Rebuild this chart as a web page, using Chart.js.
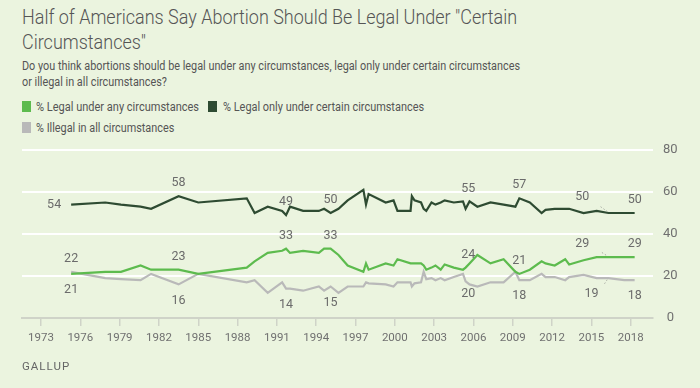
<!DOCTYPE html>
<html>
<head>
<meta charset="utf-8">
<script src="https://cdn.jsdelivr.net/npm/chart.js@4/dist/chart.umd.min.js"></script>
<style>
  html, body { margin: 0; padding: 0; }
  body { width: 700px; height: 388px; overflow: hidden; }
  #wrap {
    position: relative; width: 700px; height: 388px;
    background: #ebf4df; overflow: hidden;
    font-family: Roboto, "Noto Sans", sans-serif;
    color: #5a5a5a;
  }
  .fit { position: absolute; width: max-content; white-space: nowrap; transform-origin: 0 0; }
  .title { left: 22px; top: 5px; font-size: 21px; font-weight: 300; line-height: 25px; color: #555; }
  .sub { left: 22px; top: 58px; font-size: 12.5px; line-height: 16px; color: #555; }
  .leg { font-size: 12.5px; line-height: 14px; color: #555; }
  .sq { position: absolute; width: 9px; height: 11px; }
  .gallup { position: absolute; left: 22px; top: 359px; font-size: 11.5px; letter-spacing: 1px; color: #666; }
  #chartBox { position: absolute; left: 0; top: 130px; width: 700px; height: 230px; }
</style>
</head>
<body>
<div id="wrap">
  <div class="fit title" data-w="495">Half of Americans Say Abortion Should Be Legal Under "Certain<br>Circumstances"</div>
  <div class="fit sub" data-w="498">Do you think abortions should be legal under any circumstances, legal only under certain circumstances<br>or illegal in all circumstances?</div>

  <div class="sq" style="left:22px;top:101px;background:#5dbb4e"></div>
  <div class="fit leg" data-w="163" style="left:36px;top:100px">% Legal under any circumstances</div>
  <div class="sq" style="left:208px;top:101px;background:#2e4b32"></div>
  <div class="fit leg" data-w="201" style="left:223px;top:100px">% Legal only under certain circumstances</div>
  <div class="sq" style="left:22px;top:122px;background:#b9b9b9"></div>
  <div class="fit leg" data-w="138" style="left:36px;top:121px">% Illegal in all circumstances</div>

  <div id="chartBox"><canvas id="chart"></canvas></div>
  <div class="gallup">GALLUP</div>
</div>

<script>
// Survey dates (fractional years) and the three answer shares
const years = [
  1975.3, 1977.9, 1979.1, 1980.6, 1981.4, 1983.5, 1985.0, 1988.7, 1989.3, 1990.3,
  1991.4, 1991.7, 1992.0, 1993.0, 1994.2, 1994.6, 1995.1, 1995.7, 1996.4, 1997.6,
  1997.8, 1998.0, 1999.3, 1999.9, 2000.2, 2001.2, 2001.3, 2001.5, 2002.0, 2002.2,
  2002.4, 2002.8, 2003.1, 2003.5, 2003.8, 2004.5, 2005.2, 2005.4, 2005.7, 2006.3,
  2007.3, 2008.3, 2009.2, 2009.5, 2010.3, 2011.2, 2011.5, 2012.2, 2013.0, 2013.3,
  2014.4, 2015.4, 2016.3, 2017.5, 2018.3
];
const legalAny = [
  21, 22, 22, 25, 23, 23, 21, 24, 27, 31,
  32, 33, 31, 32, 31, 33, 33, 30, 25, 22,
  26, 23, 26, 25, 28, 26, 26, 26, 26, 25,
  23, 24, 25, 23, 25.5, 24, 23, 24, 26, 30,
  26, 28, 22, 21, 23, 27, 26, 25, 28, 25.5,
  27.5, 29, 29, 29, 29
];
const legalCertain = [
  54, 55, 54, 53, 52, 58, 55, 57, 50, 53,
  51, 49, 53, 51, 51, 52, 50, 52, 56, 61,
  54, 59, 55, 56, 51, 51, 58, 56, 55, 52,
  51, 55, 54, 55, 56, 55, 55.5, 52, 55.5, 53,
  55, 54, 53, 57, 55, 50, 51.5, 52, 52, 52,
  50, 51, 50, 50, 50
];
const illegalAll = [
  22, 19, 18.5, 18, 21, 16, 21, 17, 18, 12,
  17, 14, 14, 13, 15, 13, 15, 12, 15, 15,
  17, 16.5, 16, 15, 17, 17, 15, 16.5, 17, 22,
  18.5, 19, 18, 19, 18, 19.5, 21, 17.5, 16, 15,
  17, 17, 22, 18, 18, 21, 19.5, 19.5, 18, 19.5,
  20.5, 19, 19, 18, 18
];

const xTicks = [1973, 1976, 1979, 1982, 1985, 1988, 1991, 1994, 1997, 2000, 2003, 2006, 2009, 2012, 2015, 2018];
const yTicks = [0, 20, 40, 60, 80];

// Annotated values: [year, value, text, side]
const pointLabels = [
  [1975.3, 54, '54', 'left'],
  [1975.3, 22, '22', 'above'],
  [1975.3, 21, '21', 'below'],
  [1983.5, 58, '58', 'above'],
  [1983.5, 23, '23', 'above'],
  [1983.5, 16, '16', 'below'],
  [1991.7, 49, '49', 'above'],
  [1991.7, 33, '33', 'above'],
  [1991.7, 14, '14', 'below'],
  [1995.1, 50, '50', 'above'],
  [1995.1, 33, '33', 'above'],
  [1995.1, 15, '15', 'below'],
  [2005.6, 55.5, '55', 'above'],
  [2005.6, 24, '24', 'above'],
  [2005.6, 19, '20', 'below'],
  [2009.5, 57, '57', 'above'],
  [2009.5, 21, '21', 'above'],
  [2009.5, 18, '18', 'below'],
  [2014.3, 51.5, '50', 'above'],
  [2014.3, 29, '29', 'above'],
  [2015.0, 19, '19', 'below'],
  [2018.3, 50, '50', 'above'],
  [2018.3, 29, '29', 'above'],
  [2018.3, 18, '18', 'below']
];
// dotted leaders from the 2014 labels to the 2016 reading: [x1, v1, x2, v2]
const leaders = [
  [2015.7, 53, 2016.2, 50.8],
  [2015.8, 31.2, 2016.2, 29.6],
  [2016.0, 16.3, 2016.2, 18.2]
];

// squeeze html text blocks to the measured widths of the original
document.querySelectorAll('.fit').forEach(el => {
  const w = +el.dataset.w;
  el.style.transform = 'scaleX(' + (w / el.scrollWidth) + ')';
});

function series(values) {
  return years.map((y, i) => ({ x: y, y: values[i] }));
}

// Draws the gray value labels (and the few dotted leaders) next to the lines
const labelPlugin = {
  id: 'pointLabels',
  afterDatasetsDraw(chart) {
    const ctx = chart.ctx;
    const xs = chart.scales.x, ys = chart.scales.y;
    ctx.save();
    ctx.strokeStyle = '#a9ada4';
    ctx.lineWidth = 1;
    ctx.setLineDash([1.5, 2]);
    leaders.forEach(([x1, v1, x2, v2]) => {
      ctx.beginPath();
      ctx.moveTo(xs.getPixelForValue(x1), ys.getPixelForValue(v1));
      ctx.lineTo(xs.getPixelForValue(x2), ys.getPixelForValue(v2));
      ctx.stroke();
    });
    ctx.setLineDash([]);
    ctx.font = '12.5px Roboto';
    ctx.fillStyle = '#6b6b6b';
    ctx.textAlign = 'center';
    ctx.textBaseline = 'middle';
    pointLabels.forEach(([yr, v, txt, side]) => {
      let x = xs.getPixelForValue(yr);
      let y = ys.getPixelForValue(v);
      if (side === 'above') y -= 13;
      else if (side === 'below') y += 16;
      else if (side === 'left') x -= 17;
      ctx.fillText(txt, x, y);
    });
    ctx.restore();
  }
};

new Chart(document.getElementById('chart'), {
  type: 'line',
  data: {
    datasets: [
      {
        label: '% Legal under any circumstances',
        data: series(legalAny),
        borderColor: '#5dbb4e',
        borderWidth: 2.2
      },
      {
        label: '% Legal only under certain circumstances',
        data: series(legalCertain),
        borderColor: '#2e4b32',
        borderWidth: 2.2
      },
      {
        label: '% Illegal in all circumstances',
        data: series(illegalAll),
        borderColor: '#b9b9b9',
        borderWidth: 2.2
      }
    ]
  },
  options: {
    responsive: true,
    maintainAspectRatio: false,
    animation: false,
    elements: { point: { radius: 0 }, line: { tension: 0 } },
    layout: { padding: { left: 22, top: 20, right: 9, bottom: 12 } },
    plugins: {
      legend: { display: false },
      tooltip: { enabled: false }
    },
    scales: {
      x: {
        type: 'linear',
        min: 1971.55,
        max: 2019.7,
        afterBuildTicks: s => { s.ticks = xTicks.map(v => ({ value: v })); },
        afterFit: s => { s.height = 30; },
        grid: { drawOnChartArea: false, drawTicks: true, tickLength: 8, color: '#cfd3c8', lineWidth: 1.5 },
        border: { display: true, color: '#cfd3c8', width: 2 },
        ticks: {
          padding: 5,
          autoSkip: false,
          maxRotation: 0,
          color: '#707070',
          font: { family: 'Roboto', size: 11.5 },
          callback: v => String(v)
        }
      },
      y: {
        position: 'right',
        min: 0,
        max: 80,
        afterBuildTicks: s => { s.ticks = yTicks.map(v => ({ value: v })); },
        afterFit: s => { s.width = 38; },
        grid: { color: '#ffffff', lineWidth: 2, drawTicks: false },
        border: { display: false },
        ticks: {
          padding: 10,
          crossAlign: 'center',
          color: '#707070',
          font: { family: 'Roboto', size: 13 }
        }
      }
    }
  },
  plugins: [labelPlugin]
});
</script>
</body>
</html>
